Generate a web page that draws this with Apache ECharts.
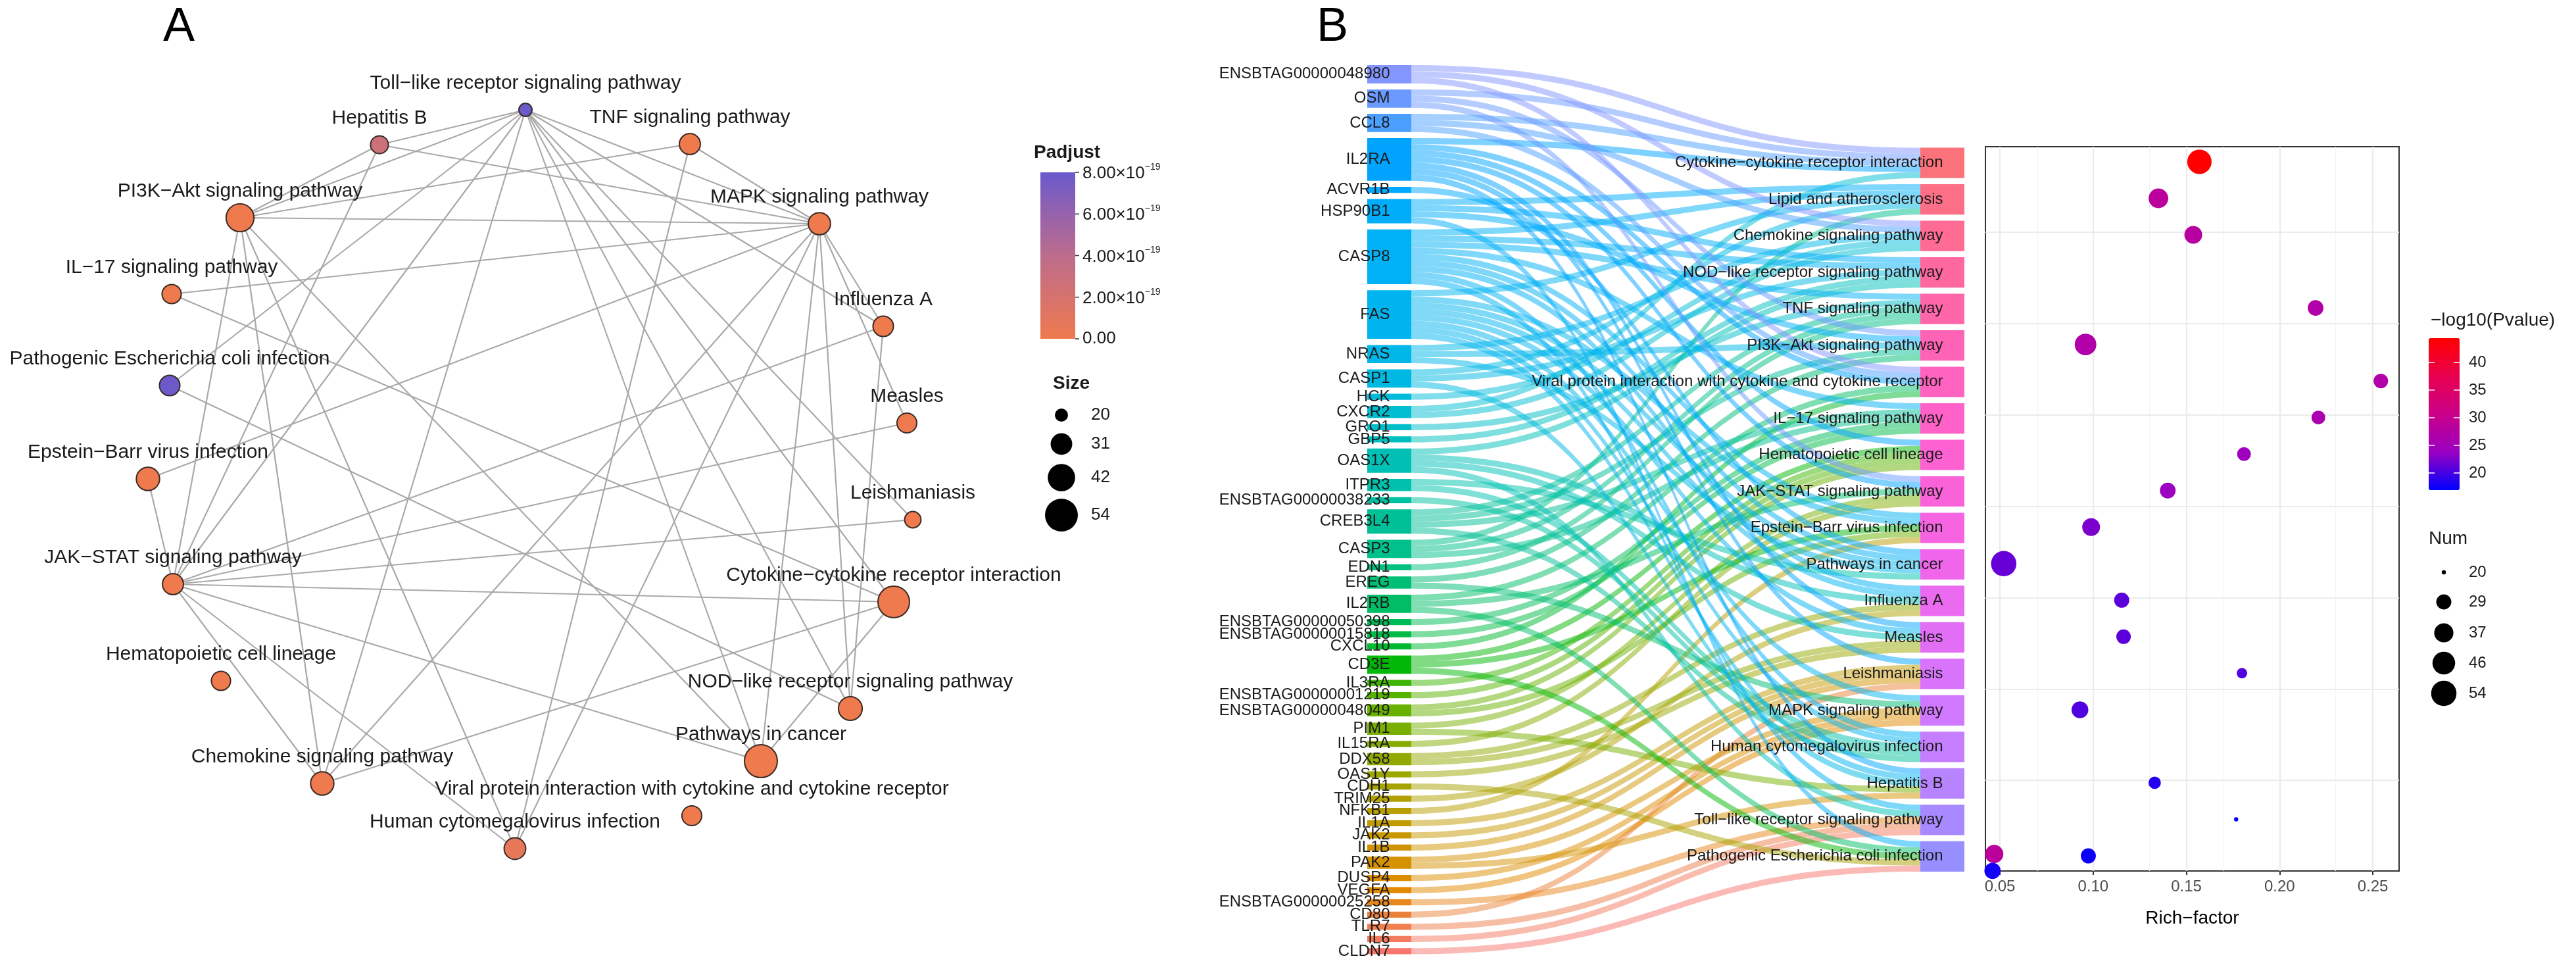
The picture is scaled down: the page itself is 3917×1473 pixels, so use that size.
<!DOCTYPE html>
<html><head><meta charset="utf-8">
<script src="https://cdn.jsdelivr.net/npm/echarts@6/dist/echarts.min.js"></script>
<style>html,body{margin:0;padding:0;background:#fff}#c{width:3917px;height:1473px}</style>
</head><body><div id="c"></div><script>
const FONT = '"Liberation Sans", Arial, Helvetica, sans-serif';

// ================= Panel A : enrichment network =================
const netIds = ['Toll','HepB','TNF','PI3K','MAPK','IL17','FluA','Ecoli','Measles','EBV','Leish','JAK','Cyto','Hemat','NOD','Cancer','Chemo','Viral','HCMV'];
const netLabels = ['Toll−like receptor signaling pathway','Hepatitis B','TNF signaling pathway','PI3K−Akt signaling pathway','MAPK signaling pathway','IL−17 signaling pathway','Influenza A','Pathogenic Escherichia coli infection','Measles','Epstein−Barr virus infection','Leishmaniasis','JAK−STAT signaling pathway','Cytokine−cytokine receptor interaction','Hematopoietic cell lineage','NOD−like receptor signaling pathway','Pathways in cancer','Chemokine signaling pathway','Viral protein interaction with cytokine and cytokine receptor','Human cytomegalovirus infection'];
const netX = [799,577,1049,365,1246,261,1343,258,1379,225,1388,263,1359,336,1293,1157,490,1052,783];
const netY = [167,220,219,331,340,447,496,586,643,728,790,888,915,1035,1077,1157,1191,1240,1290];
const netSize = [20,25,30,43,32,27,29,29,28,34,23,30,51,27,35,54,34,28,31];
const netPadj = [8.0e-19,2.8e-19,0,0,0,0,0,7.9e-19,0,0,0,0,0,0,0,0,0,0,0.7e-19];
const netEdges = [
 ['Toll','HepB'],['Toll','PI3K'],['Toll','Ecoli'],['Toll','JAK'],['Toll','Chemo'],['Toll','MAPK'],['Toll','FluA'],['Toll','Leish'],['Toll','Cyto'],['Toll','NOD'],['Toll','Cancer'],
 ['HepB','PI3K'],['HepB','MAPK'],['HepB','JAK'],
 ['TNF','PI3K'],['TNF','MAPK'],['TNF','HCMV'],
 ['PI3K','MAPK'],['PI3K','JAK'],['PI3K','Chemo'],['PI3K','HCMV'],['PI3K','Cancer'],
 ['IL17','MAPK'],['IL17','Cyto'],
 ['Ecoli','NOD'],
 ['EBV','JAK'],['EBV','MAPK'],
 ['JAK','FluA'],['JAK','Measles'],['JAK','Leish'],['JAK','Cyto'],['JAK','Chemo'],['JAK','Cancer'],['JAK','HCMV'],
 ['Chemo','Cyto'],['Chemo','MAPK'],
 ['MAPK','FluA'],['MAPK','Measles'],['MAPK','NOD'],['MAPK','Cancer'],['MAPK','HCMV'],
 ['FluA','NOD'],['Cyto','Cancer']
];
const padjTicks = [0, 2e-19, 4e-19, 6e-19, 8e-19];
const sizeTicks = [20, 31, 42, 54];

// ================= Panel B : sankey + dot plot =================
const genes = ['ENSBTAG00000048980','OSM','CCL8','IL2RA','ACVR1B','HSP90B1','CASP8','FAS','NRAS','CASP1','HCK','CXCR2','GRO1','GBP5','OAS1X','ITPR3','ENSBTAG00000038233','CREB3L4','CASP3','EDN1','EREG','IL2RB','ENSBTAG00000050398','ENSBTAG00000015818','CXCL10','CD3E','IL3RA','ENSBTAG00000001219','ENSBTAG00000048049','PIM1','IL15RA','DDX58','OAS1Y','CDH1','TRIM25','NFKB1','IL1A','JAK2','IL1B','PAK2','DUSP4','VEGFA','ENSBTAG00000025258','CD80','TLR7','IL6','CLDN7'];
const pathways = ['Cytokine−cytokine receptor interaction','Lipid and atherosclerosis','Chemokine signaling pathway','NOD−like receptor signaling pathway','TNF signaling pathway','PI3K−Akt signaling pathway','Viral protein interaction with cytokine and cytokine receptor','IL−17 signaling pathway','Hematopoietic cell lineage','JAK−STAT signaling pathway','Epstein−Barr virus infection','Pathways in cancer','Influenza A','Measles','Leishmaniasis','MAPK signaling pathway','Human cytomegalovirus infection','Hepatitis B','Toll−like receptor signaling pathway','Pathogenic Escherichia coli infection'];
const pathGenes = [
 ['ENSBTAG00000048980','OSM','CCL8','IL2RA','CXCR2'],
 ['HSP90B1','CASP8','FAS','CASP1','CASP3'],
 ['ENSBTAG00000048980','CCL8','NRAS','HCK','CXCR2'],
 ['HSP90B1','CASP8','CASP1','GBP5','OAS1X'],
 ['CASP8','GRO1','CREB3L4','CASP3','EDN1'],
 ['OSM','HSP90B1','NRAS','CREB3L4','EREG'],
 ['ENSBTAG00000048980','CCL8','IL2RA','IL2RB','CXCL10'],
 ['CASP8','CREB3L4','CASP3','ENSBTAG00000050398','ENSBTAG00000015818'],
 ['IL2RA','CD3E','IL3RA','ENSBTAG00000001219','ENSBTAG00000048049'],
 ['OSM','IL2RA','IL2RB','PIM1','IL15RA'],
 ['CASP8','FAS','CD3E','ENSBTAG00000048049','NFKB1'],
 ['ACVR1B','CASP8','FAS','NRAS','ITPR3'],
 ['CASP8','FAS','OAS1X','DDX58','TRIM25'],
 ['IL2RA','FAS','OAS1X','DDX58','OAS1Y'],
 ['IL2RA','IL1A','JAK2','IL1B','CD80'],
 ['FAS','EREG','PAK2','DUSP4','VEGFA'],
 ['CASP8','FAS','ITPR3','CREB3L4','ENSBTAG00000038233'],
 ['IL2RA','FAS','CASP1','PIM1','PAK2'],
 ['CASP8','OAS1X','ENSBTAG00000025258','TLR7','IL6'],
 ['HSP90B1','IL2RB','CD3E','CDH1','CLDN7']
];
// dot plot values, in pathway order
const dotRich = [0.157,0.135,0.1537,0.0469,0.2193,0.0959,0.2543,0.2208,0.1809,0.140,0.0989,0.052,0.1153,0.1163,0.1798,0.0929,0.046,0.133,0.1767,0.0974];
const dotRow  = [1,2,3,19.95,5,6,7,8,9,10,11,12,13,14,15,16,20.41,18,19,20];
const dotNum  = [51,38,34,35,30,43,28,27,27,30,34,54,29,28,23,32,31,25,20,29];
const dotLogP = [44.4,28.5,28,28.5,27,27,27,26,24.4,24,22.4,21.5,21,21,20.5,20.5,17.8,18.5,16.9,17.5];
const xTicks = [0.05,0.10,0.15,0.20,0.25];
const xMinor = [0.075,0.125,0.175,0.225];
const rowGrid = [2.93,5.43,7.93,10.43,12.93,15.43,17.93];
const logpTicks = [20,25,30,35,40];
const numTicks = [20,29,37,46,54];

// ---------- helpers ----------
function hcl2hex(h, c, l) {
  const hr = h * Math.PI / 180, U = c * Math.cos(hr), V = c * Math.sin(hr);
  const Xn = 95.047, Yn = 100, Zn = 108.883, den = Xn + 15 * Yn + 3 * Zn;
  const un = 4 * Xn / den, vn = 9 * Yn / den;
  const Y = l > 8 ? Yn * Math.pow((l + 16) / 116, 3) : Yn * l / 903.3;
  const up = U / (13 * l) + un, vp = V / (13 * l) + vn;
  const X = 9 * Y * up / (4 * vp), Z = Y * (12 - 3 * up - 20 * vp) / (4 * vp);
  const r = (3.2404542 * X - 1.5371385 * Y - 0.4985314 * Z) / 100;
  const g = (-0.9692660 * X + 1.8760108 * Y + 0.0415560 * Z) / 100;
  const b = (0.0556434 * X - 0.2040259 * Y + 1.0572252 * Z) / 100;
  const gam = v => { v = Math.max(0, Math.min(1, v)); return v <= 0.0031308 ? 12.92 * v : 1.055 * Math.pow(v, 1 / 2.4) - 0.055; };
  return '#' + [r, g, b].map(v => Math.round(gam(v) * 255).toString(16).padStart(2, '0')).join('');
}
const nTot = genes.length + pathways.length;
const hueCol = k => hcl2hex(15 + 360 * k / nTot, 100, 65);
const geneColor = i => hueCol(genes.length - 1 - i);
const pathColor = j => hueCol(genes.length + pathways.length - 1 - j);
const nodeDiam = n => 20 + 30 * Math.pow(Math.max(0, n - 20) / 34, 0.75);
const dotDiam = n => 6.43 * (1 + 5 * Math.sqrt(Math.max(0, n - 20) / 34));
const PADJ_COLORS = ['#EE7A4E', '#D6726E', '#BC6C8C', '#9662AC', '#6A5ACD'];
const PVAL_COLORS = ['#0000FF', '#9A00C2', '#CA0089', '#E8004F', '#FF0000'];
const padjMax = 8e-19;
const padjColor = v => echarts.color.lerp(Math.max(0, Math.min(1, v / padjMax)), PADJ_COLORS);

// ---------- sankey geometry ----------
const SK_TOP = 99, SK_BOTTOM = 22.5, SK_H = 1473 - SK_TOP - SK_BOTTOM, GAP = 9.3, NODE_W = 67;
const totalLinks = pathGenes.reduce((s, a) => s + a.length, 0);
const ky = (SK_H - (genes.length - 1) * GAP) / totalLinks;
const rightH = totalLinks * ky + (pathways.length - 1) * GAP;
const padVal = ((SK_H - rightH) / 2 - GAP) / ky;

const nodeLabel = {show: true, position: 'insideRight', distance: NODE_W / 2 - 1, align: 'right', verticalAlign: 'middle', fontSize: 24, color: '#1a1a1a', fontFamily: FONT};
const skNodes = [];
genes.forEach((g, i) => skNodes.push({name: g, depth: 0, itemStyle: {color: geneColor(i)}, label: nodeLabel}));
skNodes.push({name: '__pad', value: padVal, depth: 1, itemStyle: {color: 'rgba(0,0,0,0)'}, label: {show: false}});
pathways.forEach((p, j) => skNodes.push({name: p, depth: 1, itemStyle: {color: pathColor(j)}, label: nodeLabel}));
const skLinks = [];
pathGenes.forEach((gl, j) => gl.forEach(g => {
  skLinks.push({source: g, target: pathways[j], value: 1, lineStyle: {color: geneColor(genes.indexOf(g))}});
}));

// ---------- graphics (panel letters, legends) ----------
const gfx = [];
const txt = (x, y, text, o) => gfx.push(Object.assign({type: 'text', x, y, silent: true, style: Object.assign({text, fill: '#1a1a1a', font: '26px ' + FONT, textAlign: 'left', textVerticalAlign: 'middle'}, o || {})}));
txt(272, 42, 'A', {font: '72px ' + FONT, textAlign: 'center', fill: '#000'});
txt(2026, 42, 'B', {font: '72px ' + FONT, textAlign: 'center', fill: '#000'});

// Padjust legend
const PA = {x: 1582, top: 262, w: 53, h: 253};
txt(1572, 232, 'Padjust', {font: 'bold 28px ' + FONT});
gfx.push({type: 'rect', silent: true, shape: {x: PA.x, y: PA.top, width: PA.w, height: PA.h},
  style: {fill: new echarts.graphic.LinearGradient(0, 1, 0, 0, PADJ_COLORS.map((c, i) => ({offset: i / (PADJ_COLORS.length - 1), color: c})))}});
padjTicks.forEach(v => {
  const y = PA.top + PA.h - v / padjMax * PA.h;
  gfx.push({type: 'line', silent: true, shape: {x1: PA.x + PA.w, y1: y, x2: PA.x + PA.w + 6, y2: y}, style: {stroke: '#333', lineWidth: 1.5}});
  if (v === 0) txt(1646, y, '0.00');
  else {
    const m = v / 1e-19;
    gfx.push({type: 'text', x: 1646, y: y, silent: true, style: {
      text: '{a|' + m.toFixed(2) + '×10}{s|−19}', textVerticalAlign: 'middle', textAlign: 'left',
      rich: {a: {font: '26px ' + FONT, fill: '#1a1a1a', verticalAlign: 'bottom', lineHeight: 30}, s: {font: '14px ' + FONT, fill: '#1a1a1a', verticalAlign: 'top', lineHeight: 30}}
    }});
  }
});
// Size legend
txt(1601, 583, 'Size', {font: 'bold 28px ' + FONT});
const sizeY = [631, 675, 726, 783];
sizeTicks.forEach((n, i) => {
  gfx.push({type: 'circle', silent: true, shape: {cx: 1614, cy: sizeY[i], r: nodeDiam(n) / 2}, style: {fill: '#000'}});
  txt(1659, sizeY[i], String(n));
});

// -log10(Pvalue) legend
const PB = {x: 3693, top: 514, w: 47, h: 231, min: Math.min(...dotLogP), max: Math.max(...dotLogP)};
txt(3696, 487, '−log10(Pvalue)', {font: '28px ' + FONT});
logpTicks.forEach(v => {
  const y = PB.top + PB.h - (v - PB.min) / (PB.max - PB.min) * PB.h;
  gfx.push({type: 'line', silent: true, z: 100, shape: {x1: PB.x, y1: y, x2: PB.x + 9, y2: y}, style: {stroke: '#fff', lineWidth: 1.5}});
  gfx.push({type: 'line', silent: true, z: 100, shape: {x1: PB.x + PB.w - 9, y1: y, x2: PB.x + PB.w, y2: y}, style: {stroke: '#fff', lineWidth: 1.5}});
  txt(3754, y, String(v), {font: '24px ' + FONT});
});
// Num legend
txt(3693, 819, 'Num', {font: '28px ' + FONT});
const numY = [870, 915, 962, 1008, 1054];
numTicks.forEach((n, i) => {
  gfx.push({type: 'circle', silent: true, shape: {cx: 3716, cy: numY[i], r: dotDiam(n) / 2}, style: {fill: '#000'}});
  txt(3754, numY[i], String(n), {font: '24px ' + FONT});
});

// ---------- option ----------
const option = {
  backgroundColor: '#fff',
  animation: false,
  textStyle: {fontFamily: FONT},
  grid: [
    {left: 0, top: 0, width: 3917, height: 1473, show: false},
    {left: 3019, top: 223, width: 629, height: 1101, show: true, borderColor: '#333', borderWidth: 2, backgroundColor: 'rgba(0,0,0,0)'}
  ],
  xAxis: [
    {gridIndex: 0, type: 'value', min: 0, max: 3917, show: false},
    {gridIndex: 1, type: 'value', min: 0.0422, max: 0.2641,
      axisLine: {show: false},
      axisTick: {show: true, customValues: xTicks, length: 6, lineStyle: {color: '#333', width: 2}},
      axisLabel: {customValues: xTicks, formatter: v => v.toFixed(2), color: '#4D4D4D', fontSize: 24, margin: 12, fontFamily: FONT},
      splitLine: {show: false},
      name: 'Rich−factor', nameLocation: 'middle', nameGap: 58, nameTextStyle: {fontSize: 28, color: '#000', fontFamily: FONT}}
  ],
  yAxis: [
    {gridIndex: 0, type: 'value', min: 0, max: 1473, inverse: true, show: false},
    {gridIndex: 1, type: 'value', min: 0.586, max: 20.414, inverse: true,
      axisLine: {show: false}, axisTick: {show: false}, axisLabel: {show: false}, splitLine: {show: false}}
  ],
  visualMap: [
    {type: 'continuous', seriesIndex: 3, dimension: 3, min: PB.min, max: PB.max,
      inRange: {color: PVAL_COLORS},
      left: PB.x, top: PB.top, itemWidth: PB.w, itemHeight: PB.h, padding: 0, calculable: false, text: null, showLabel: false, hoverLink: false}
  ],
  graphic: gfx,
  series: [
    { // 0 network
      type: 'graph', coordinateSystem: 'cartesian2d', xAxisIndex: 0, yAxisIndex: 0,
      silent: true, z: 3,
      data: netIds.map((id, i) => ({name: netLabels[i], value: [netX[i], netY[i]], symbolSize: nodeDiam(netSize[i]),
        itemStyle: {color: padjColor(netPadj[i]), borderColor: '#3b2b26', borderWidth: 2}})),
      links: netEdges.map(([a, b]) => ({source: netLabels[netIds.indexOf(a)], target: netLabels[netIds.indexOf(b)]})),
      edgeSymbol: ['none', 'none'],
      lineStyle: {color: '#A9A9A9', width: 2.2, opacity: 1, curveness: 0},
      label: {show: true, position: 'inside', offset: [0, -40], formatter: '{b}', fontSize: 30, color: '#1a1a1a', fontFamily: FONT},
      emphasis: {disabled: true}
    },
    { // 1 sankey
      type: 'sankey', left: 2079, top: SK_TOP, right: 3917 - 2987, bottom: SK_BOTTOM,
      nodeWidth: NODE_W, nodeGap: GAP, layoutIterations: 0, nodeAlign: 'justify', draggable: false, silent: true,
      data: skNodes, links: skLinks,
      itemStyle: {borderWidth: 0, opacity: 1},
      lineStyle: {opacity: 0.5, curveness: 0.5},
      label: nodeLabel,
      emphasis: {disabled: true}
    },
    { // 2 grid lines for dot plot
      type: 'scatter', xAxisIndex: 1, yAxisIndex: 1, data: [], silent: true, z: 1, zlevel: 0,
      markLine: {silent: true, symbol: 'none', animation: false, z: 1, label: {show: false},
        data: [
          ...xMinor.map(v => ({xAxis: v, lineStyle: {color: '#F4F4F4', width: 1.2, type: 'solid'}})),
          ...xTicks.map(v => ({xAxis: v, lineStyle: {color: '#EBEBEB', width: 2.2, type: 'solid'}})),
          ...rowGrid.map(v => ({yAxis: v, lineStyle: {color: '#EBEBEB', width: 2.2, type: 'solid'}}))
        ]}
    },
    { // 3 dot plot
      type: 'scatter', xAxisIndex: 1, yAxisIndex: 1, silent: true, z: 10,
      data: pathways.map((p, j) => [dotRich[j], dotRow[j], dotNum[j], dotLogP[j]]),
      symbolSize: v => dotDiam(v[2]),
      itemStyle: {opacity: 1}
    }
  ]
};
const chart = echarts.init(document.getElementById('c'), null, {width: 3917, height: 1473});
chart.setOption(option);
</script></body></html>
